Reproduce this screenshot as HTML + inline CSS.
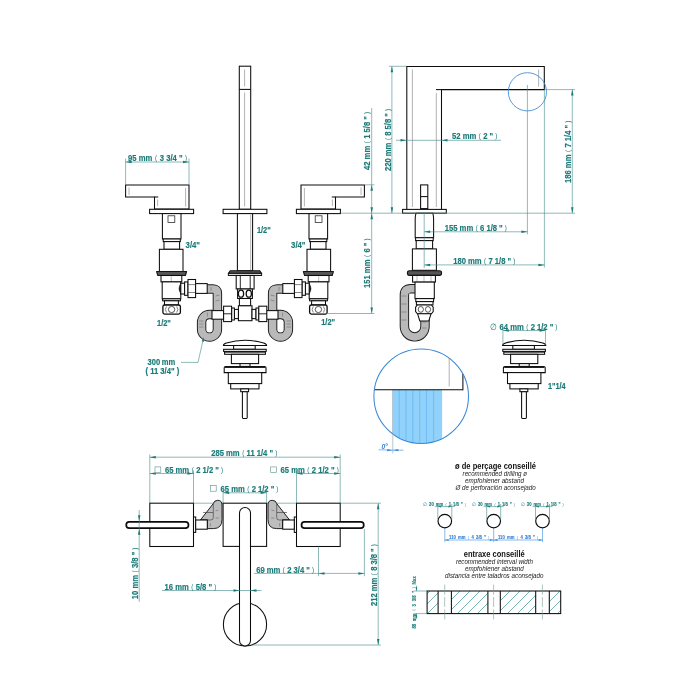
<!DOCTYPE html>
<html lang="fr">
<head>
<meta charset="utf-8">
<title>Robinetterie — dimensions</title>
<style>
html,body{margin:0;padding:0;background:#fff;}
body{width:700px;height:700px;overflow:hidden;}
svg{display:block;will-change:transform;}
text{font-family:"Liberation Sans",sans-serif;white-space:pre;}
.k{fill:#fff;stroke:#0c0c0c;stroke-width:1.05;stroke-linejoin:miter;}
.kn{fill:none;stroke:#0c0c0c;stroke-width:1.05;}
.kc{fill:none;stroke:#0c0c0c;stroke-width:1.15;}
.kk{fill:none;stroke:#222;stroke-width:1.3;}
.bk{fill:#111;stroke:#111;stroke-width:.6;}
.kt{fill:#fff;stroke:#0c0c0c;stroke-width:1.3;}
.lt{fill:#d8d8d8;stroke:#161616;stroke-width:1;}
.k3b{fill:none;stroke:#111;stroke-width:.9;}
.k2{fill:#fff;stroke:#222;stroke-width:.75;}
.k3{fill:none;stroke:#333;stroke-width:.6;}
.dk{fill:#555;stroke:#161616;stroke-width:1.1;stroke-linejoin:round;}
.lv{fill:#fff;stroke:#0c0c0c;stroke-width:1.7;}
.el{fill:#bdbdbd;stroke:#161616;stroke-width:.95;stroke-linejoin:round;}
.hb{fill:none;stroke:#1c1c1c;stroke-width:9.4;stroke-linecap:butt;}
.hf{fill:none;stroke:#b9b9b9;stroke-width:7.5;stroke-linecap:butt;}
.rib{fill:none;stroke:#666;stroke-width:.55;}
.g{fill:none;stroke:#8a8a8a;stroke-width:.65;}
.g2{fill:none;stroke:#777;stroke-width:.5;}
.d{fill:none;stroke:#3f8c89;stroke-width:.6;}
.a{fill:#1b7b79;stroke:none;}
.t{fill:#1b7b79;font-weight:bold;font-size:8.5px;stroke:#1b7b79;stroke-width:.18;}
.pn{font-weight:normal;stroke:none;font-size:.8em;}
.tl{fill:#1b7b79;font-size:8.5px;}
.ts{fill:#1b7b79;font-weight:bold;font-size:5.4px;stroke:#1b7b79;stroke-width:.12;}
.tsl{fill:#1b7b79;font-size:5.4px;}
.tsb{fill:#2f7fd6;font-weight:bold;font-size:5.4px;stroke:#2f7fd6;stroke-width:.12;}
.tb{fill:#2f7fd6;font-weight:bold;font-style:italic;font-size:6.6px;}
.bc{fill:none;stroke:#3a88d8;stroke-width:1.05;}
.bc2{fill:none;stroke:#3a88d8;stroke-width:.85;}
.bl{fill:none;stroke:#3c8bd9;stroke-width:.6;}
.ab{fill:#2f8fe8;stroke:none;}
.wl{fill:none;stroke:#62b4ee;stroke-width:.7;}
.wg{fill:none;stroke:#a9b9c9;stroke-width:.8;}
.hl{fill:none;stroke:#2a8986;stroke-width:.65;}
.sq{fill:#fff;stroke:#5a8f8d;stroke-width:.6;}
.h{fill:#111;font-weight:bold;font-size:8.2px;}
.i{fill:#222;font-style:italic;font-size:7px;}
</style>
</head>
<body>
<svg width="700" height="700" viewBox="0 0 700 700">
<rect x="0" y="0" width="700" height="700" fill="#fff"/>
<g id="front">
<path class="hb" d="M206,289 H213 Q217.4,289 217.4,293.5 V329.2 A7.9,7.9 0 0 1 201.6,329.2 V322.2 A7.9,7.9 0 0 1 209.5,314.5 H214" />
<path class="hf" d="M206,289 H213 Q217.4,289 217.4,293.5 V329.2 A7.9,7.9 0 0 1 201.6,329.2 V322.2 A7.9,7.9 0 0 1 209.5,314.5 H214" />
<line class="rib" x1="199" y1="321" x2="203.5" y2="321"/>
<line class="rib" x1="199" y1="324" x2="203.5" y2="324"/>
<line class="rib" x1="199" y1="327" x2="203.5" y2="327"/>
<line class="rib" x1="215.5" y1="296" x2="219.5" y2="295"/>
<line class="rib" x1="215.5" y1="301" x2="219.5" y2="300"/>
<line class="rib" x1="211" y1="291" x2="211" y2="287"/>
<line class="rib" x1="207.4" y1="316.5" x2="207.4" y2="312.5"/>
<path class="k" d="M125.6,185 H189 V208.9 H154.5 V197 H125.6 Z" />
<line class="kn" x1="154.5" y1="197" x2="158.2" y2="197"/>
<line class="g" x1="129" y1="187.5" x2="129" y2="195"/>
<line class="g" x1="185.6" y1="188" x2="185.6" y2="206.5"/>
<line class="g" x1="157.6" y1="199.5" x2="157.6" y2="206"/>
<rect class="k" x="149.6" y="209.3" width="44.0" height="4.3" />
<rect class="k" x="162.4" y="213.6" width="18.6" height="25.4" />
<rect class="k2" x="168" y="215.8" width="6.8" height="6.6" />
<rect class="k" x="163.2" y="239" width="17.1" height="2.6" />
<rect class="k" x="164" y="241.6" width="15.6" height="7.7" />
<rect class="k" x="159.4" y="249.3" width="23.6" height="22.2" />
<path class="dk" d="M156.6,271.5 H186.6 L185.4,275.5 H157.8 Z" />
<rect class="k" x="161" y="275.5" width="20.8" height="6.4" />
<line class="g2" x1="171.3" y1="276.4" x2="171.3" y2="281.2"/>
<rect class="k" x="162.2" y="281.9" width="18.6" height="16.9" />
<path class="bk" d="M180.8,283.6 Q177.4,288.6 180.8,293.6 Z" />
<rect class="k" x="162.6" y="298.8" width="17.8" height="2.0" />
<rect class="k" x="164.5" y="300.8" width="13.9" height="4.2" />
<path class="kt" d="M164.6,305 H178.6 Q180.4,305 180.4,306.8 V312.3 Q180.4,314.1 178.6,314.1 H164.6 Q162.9,314.1 162.9,312.3 V306.8 Q162.9,305 164.6,305 Z" />
<ellipse class="k2" cx="171.6" cy="309.5" rx="3.2" ry="3.1"/>
<path class="k3" d="M166.6,306.4 Q164,309.5 166.6,312.6" />
<path class="k3" d="M176.6,306.4 Q179.2,309.5 176.6,312.6" />
<rect class="k" x="180.8" y="283.2" width="3.8" height="10.8" />
<rect class="k" x="184.6" y="281.9" width="3.4" height="13.4" />
<rect class="k" x="188" y="279.5" width="7.6" height="18.1" />
<line class="k3" x1="188" y1="284.6" x2="195.6" y2="284.6"/>
<line class="k3" x1="188" y1="292.5" x2="195.6" y2="292.5"/>
<rect class="k" x="195.6" y="283.6" width="11.6" height="9.8" />
<rect class="k" x="212" y="310.6" width="11.6" height="8.6" />
<g transform="translate(490,0) scale(-1,1)">
<path class="hb" d="M206,289 H213 Q217.4,289 217.4,293.5 V329.2 A7.9,7.9 0 0 1 201.6,329.2 V322.2 A7.9,7.9 0 0 1 209.5,314.5 H214" />
<path class="hf" d="M206,289 H213 Q217.4,289 217.4,293.5 V329.2 A7.9,7.9 0 0 1 201.6,329.2 V322.2 A7.9,7.9 0 0 1 209.5,314.5 H214" />
<line class="rib" x1="199" y1="321" x2="203.5" y2="321"/>
<line class="rib" x1="199" y1="324" x2="203.5" y2="324"/>
<line class="rib" x1="199" y1="327" x2="203.5" y2="327"/>
<line class="rib" x1="215.5" y1="296" x2="219.5" y2="295"/>
<line class="rib" x1="215.5" y1="301" x2="219.5" y2="300"/>
<line class="rib" x1="211" y1="291" x2="211" y2="287"/>
<line class="rib" x1="207.4" y1="316.5" x2="207.4" y2="312.5"/>
<path class="k" d="M125.6,185 H189 V208.9 H154.5 V197 H125.6 Z" />
<line class="kn" x1="154.5" y1="197" x2="158.2" y2="197"/>
<line class="g" x1="129" y1="187.5" x2="129" y2="195"/>
<line class="g" x1="185.6" y1="188" x2="185.6" y2="206.5"/>
<line class="g" x1="157.6" y1="199.5" x2="157.6" y2="206"/>
<rect class="k" x="149.6" y="209.3" width="44.0" height="4.3" />
<rect class="k" x="162.4" y="213.6" width="18.6" height="25.4" />
<rect class="k2" x="168" y="215.8" width="6.8" height="6.6" />
<rect class="k" x="163.2" y="239" width="17.1" height="2.6" />
<rect class="k" x="164" y="241.6" width="15.6" height="7.7" />
<rect class="k" x="159.4" y="249.3" width="23.6" height="22.2" />
<path class="dk" d="M156.6,271.5 H186.6 L185.4,275.5 H157.8 Z" />
<rect class="k" x="161" y="275.5" width="20.8" height="6.4" />
<line class="g2" x1="171.3" y1="276.4" x2="171.3" y2="281.2"/>
<rect class="k" x="162.2" y="281.9" width="18.6" height="16.9" />
<path class="bk" d="M180.8,283.6 Q177.4,288.6 180.8,293.6 Z" />
<rect class="k" x="162.6" y="298.8" width="17.8" height="2.0" />
<rect class="k" x="164.5" y="300.8" width="13.9" height="4.2" />
<path class="kt" d="M164.6,305 H178.6 Q180.4,305 180.4,306.8 V312.3 Q180.4,314.1 178.6,314.1 H164.6 Q162.9,314.1 162.9,312.3 V306.8 Q162.9,305 164.6,305 Z" />
<ellipse class="k2" cx="171.6" cy="309.5" rx="3.2" ry="3.1"/>
<path class="k3" d="M166.6,306.4 Q164,309.5 166.6,312.6" />
<path class="k3" d="M176.6,306.4 Q179.2,309.5 176.6,312.6" />
<rect class="k" x="180.8" y="283.2" width="3.8" height="10.8" />
<rect class="k" x="184.6" y="281.9" width="3.4" height="13.4" />
<rect class="k" x="188" y="279.5" width="7.6" height="18.1" />
<line class="k3" x1="188" y1="284.6" x2="195.6" y2="284.6"/>
<line class="k3" x1="188" y1="292.5" x2="195.6" y2="292.5"/>
<rect class="k" x="195.6" y="283.6" width="11.6" height="9.8" />
<rect class="k" x="212" y="310.6" width="11.6" height="8.6" />
</g>
<rect class="k" x="239.3" y="66.2" width="11.4" height="143.1" />
<line class="k" x1="239.3" y1="89.4" x2="250.7" y2="89.4"/>
<line class="g" x1="244.6" y1="69.5" x2="244.6" y2="86.5"/>
<line class="g" x1="244.6" y1="92.5" x2="244.6" y2="206.5"/>
<rect class="k" x="223.1" y="209.3" width="43.8" height="4.3" />
<rect class="k" x="237.4" y="213.6" width="15.2" height="57.1" />
<line class="g" x1="250.7" y1="214.5" x2="250.7" y2="270"/>
<path class="dk" d="M230.4,270.7 H259.6 L261.6,273.4 H228.4 Z" />
<rect class="lt" x="228.4" y="273.4" width="33.2" height="2.1" />
<rect class="k" x="236.2" y="275.5" width="17.9" height="13.5" />
<line class="k3b" x1="240.3" y1="275.8" x2="240.3" y2="289"/>
<line class="k3b" x1="250.2" y1="275.8" x2="250.2" y2="289"/>
<rect class="k" x="237.6" y="289" width="14.8" height="9.5" />
<ellipse class="kt" cx="241" cy="293.7" rx="2.6" ry="3.5"/>
<ellipse class="kt" cx="248.8" cy="293.7" rx="2.6" ry="3.5"/>
<rect class="k" x="239.4" y="298.5" width="11.2" height="7.3" />
<rect class="k" x="238.4" y="305.8" width="13.6" height="14.9" />
<g>
<rect class="k" x="234.4" y="309.4" width="4.0" height="9.2" />
<rect class="k" x="231.6" y="308" width="2.8" height="12" />
<rect class="k" x="223.6" y="306.2" width="8.0" height="15.4" />
<line class="k3b" x1="223.6" y1="313.8" x2="231.6" y2="313.8"/>
</g>
<g transform="translate(490.4,0) scale(-1,1)">
<rect class="k" x="234.4" y="309.4" width="4.0" height="9.2" />
<rect class="k" x="231.6" y="308" width="2.8" height="12" />
<rect class="k" x="223.6" y="306.2" width="8.0" height="15.4" />
<line class="k3b" x1="223.6" y1="313.8" x2="231.6" y2="313.8"/>
</g>
<g transform="translate(0,0)">
<path class="k" d="M223.4,345.5 Q223.4,343.9 226.4,343 Q235.5,340.3 245,340.2 Q254.5,340.3 263.6,343 Q266.6,343.9 266.6,345.5 Z" />
<rect class="k" x="233.6" y="345.5" width="21.6" height="3.8" />
<rect class="k" x="223.6" y="349.3" width="42.6" height="2.1" />
<rect class="k" x="224.6" y="352.1" width="40.8" height="2.2" />
<rect class="k" x="231.4" y="354.3" width="27.2" height="9.3" />
<rect class="k" x="240" y="363.6" width="10" height="2.8" />
<path class="k" d="M225.6,366.4 H264.6 Q266,366.4 266,367.8 V372.6 H224.2 V367.8 Q224.2,366.4 225.6,366.4 Z" />
<line class="kk" x1="225" y1="367.3" x2="265.2" y2="367.3"/>
<rect class="k" x="228.3" y="372.6" width="33.4" height="11.0" />
<rect class="k" x="230.7" y="383.6" width="28.3" height="5.3" />
<rect class="k" x="240.7" y="388.9" width="7.9" height="2.8" />
<rect class="k" x="242.4" y="391.7" width="4.8" height="26.7" rx="0.8"/>
</g>
</g>
<line class="d" x1="125.6" y1="158.5" x2="125.6" y2="185"/>
<line class="d" x1="189" y1="158.5" x2="189" y2="185"/>
<line class="d" x1="125.6" y1="162" x2="189" y2="162"/>
<polygon class="a" points="125.6,162 131.6,160.75 131.6,163.25"/>
<polygon class="a" points="189,162 183.0,163.25 183.0,160.75"/>
<text class="t" transform="translate(128 161.3) scale(0.9 1)" ><tspan x="0" y="0">95 </tspan><tspan x="11.96" y="0">mm </tspan><tspan class="pn" x="30.07" y="-1.02">( </tspan><tspan x="35.21" y="0">3 </tspan><tspan x="42.44" y="0">3/4 </tspan><tspan x="56.76" y="0">" </tspan><tspan class="pn" x="63.29" y="-1.02">)</tspan></text>
<text class="t" transform="translate(185.6 247.5) scale(0.9087 1)" ><tspan x="0" y="0">3/4"</tspan></text>
<text class="t" transform="translate(157 325.9) scale(0.8772 1)" ><tspan x="0" y="0">1/2"</tspan></text>
<text class="t" transform="translate(256.9 232.5) scale(0.8772 1)" ><tspan x="0" y="0">1/2"</tspan></text>
<text class="t" transform="translate(291.1 247.7) scale(0.9087 1)" ><tspan x="0" y="0">3/4"</tspan></text>
<text class="t" transform="translate(321.2 325.1) scale(0.8772 1)" ><tspan x="0" y="0">1/2"</tspan></text>
<text class="t" transform="translate(147.6 365.3) scale(0.8884 1)" ><tspan x="0" y="0">300 </tspan><tspan x="15.95" y="0">mm</tspan></text>
<text class="t" transform="translate(145.4 374.4) scale(0.9 1)" ><tspan x="0" y="0">( </tspan><tspan x="5.41" y="0">11 </tspan><tspan x="16.64" y="0">3/4" </tspan><tspan x="34.72" y="0">)</tspan></text>
<path class="d" d="M181,362.4 H198 L203.2,339.5" />
<polygon class="a" points="203.8,337.2 204.05,341.76 201.61,341.22"/>
<line class="d" x1="365" y1="184.8" x2="374.4" y2="184.8"/>
<line class="d" x1="340.4" y1="213.2" x2="394.6" y2="213.2"/>
<line class="d" x1="325" y1="313.5" x2="374.4" y2="313.5"/>
<line class="d" x1="371.7" y1="108" x2="371.7" y2="313.5"/>
<polygon class="a" points="371.7,184.8 372.95,190.8 370.45,190.8"/>
<polygon class="a" points="371.7,213.2 370.45,207.2 372.95,207.2"/>
<polygon class="a" points="371.7,213.2 372.95,219.2 370.45,219.2"/>
<polygon class="a" points="371.7,313.5 370.45,307.5 372.95,307.5"/>
<text class="t" transform="translate(370.4 170) rotate(-90) scale(0.9 1)" ><tspan x="0" y="0">42 </tspan><tspan x="11.78" y="0">mm </tspan><tspan class="pn" x="29.69" y="-1.02">( </tspan><tspan x="34.63" y="0">1 </tspan><tspan x="41.68" y="0">5/8 </tspan><tspan x="55.82" y="0">" </tspan><tspan class="pn" x="62.18" y="-1.02">)</tspan></text>
<text class="t" transform="translate(370.4 288) rotate(-90) scale(0.9 1)" ><tspan x="0" y="0">151 </tspan><tspan x="16.5" y="0">mm </tspan><tspan class="pn" x="34.4" y="-1.02">( </tspan><tspan x="39.34" y="0">6 </tspan><tspan x="46.38" y="0">" </tspan><tspan class="pn" x="52.74" y="-1.02">)</tspan></text>
<line class="d" x1="391.9" y1="66.3" x2="391.9" y2="213.2"/>
<polygon class="a" points="391.9,66.3 393.15,72.3 390.65,72.3"/>
<polygon class="a" points="391.9,213.2 390.65,207.2 393.15,207.2"/>
<line class="d" x1="389" y1="66.3" x2="406.5" y2="66.3"/>
<text class="t" transform="translate(390.6 171) rotate(-90) scale(0.9 1)" ><tspan x="0" y="0">220 </tspan><tspan x="16.46" y="0">mm </tspan><tspan class="pn" x="34.32" y="-1.02">( </tspan><tspan x="39.21" y="0">8 </tspan><tspan x="46.21" y="0">5/8 </tspan><tspan x="60.31" y="0">" </tspan><tspan class="pn" x="66.62" y="-1.02">)</tspan></text>
<g id="side">
<path class="hb" d="M416,288.7 H410.5 Q404.4,288.7 404.4,295 V326.6 A10.3,10.3 0 0 0 425,326.6 V314" />
<path class="hf" d="M416,288.7 H410.5 Q404.4,288.7 404.4,295 V326.6 A10.3,10.3 0 0 0 425,326.6 V314" />
<line class="rib" x1="401.5" y1="296" x2="406.5" y2="296"/>
<line class="rib" x1="401.5" y1="304" x2="406.5" y2="304"/>
<line class="rib" x1="401.5" y1="312" x2="406.5" y2="312"/>
<line class="rib" x1="401.5" y1="320" x2="406.5" y2="320"/>
<line class="rib" x1="422" y1="322" x2="426.5" y2="322"/>
<line class="rib" x1="422" y1="328" x2="426.5" y2="328"/>
<path class="k" d="M406.8,209.4 V66.4 H544.3 V89.6 H441.5 V209.4" />
<line class="kn" x1="436" y1="89.6" x2="441.5" y2="89.6"/>
<line class="g" x1="412.4" y1="69.5" x2="412.4" y2="207"/>
<line class="g" x1="436.3" y1="93" x2="436.3" y2="207"/>
<line class="g" x1="538.6" y1="69.5" x2="538.6" y2="86.5"/>
<rect class="k" x="420.6" y="184.9" width="7.2" height="23.7" />
<line class="k" x1="420.6" y1="196.6" x2="427.8" y2="196.6"/>
<rect class="k" x="402.6" y="209.4" width="43.7" height="3.8" />
<path class="k" d="M416,213.2 H432.8 Q433.6,216 433.6,219 V237.7 H415.2 V219 Q415.2,216 416,213.2 Z" />
<rect class="k" x="415.6" y="237.7" width="17.6" height="2.9" />
<rect class="k" x="416.2" y="240.6" width="16.4" height="8.3" />
<rect class="k" x="412.4" y="248.9" width="24.0" height="21.4" />
<path class="dk" d="M409.2,270.8 H439.6 Q441.6,270.8 441.6,273.1 Q441.6,275.4 439.6,275.4 H409.2 Q407.4,275.4 407.4,273.1 Q407.4,270.8 409.2,270.8 Z" />
<rect class="k" x="412.6" y="275.4" width="22.8" height="6.7" />
<line class="g2" x1="417" y1="276" x2="417" y2="282"/>
<line class="g2" x1="424" y1="276" x2="424" y2="282"/>
<line class="g2" x1="431" y1="276" x2="431" y2="282"/>
<rect class="k" x="415" y="282.1" width="19.3" height="16.5" />
<rect class="k" x="415.8" y="298.6" width="17.8" height="3.0" />
<rect class="k" x="416.4" y="301.6" width="16.6" height="3.4" />
<path class="k" d="M417.4,305 H431.4 L433.2,307.2 V311.6 L431.4,313.8 H417.4 L415.6,311.6 V307.2 Z" />
<ellipse class="k2" cx="420.8" cy="309.4" rx="2.6" ry="2.9"/>
<ellipse class="k2" cx="428" cy="309.4" rx="2.6" ry="2.9"/>
<path class="k" d="M417.6,313.8 H431 L428.8,321 H419.8 Z" />
</g>
<line class="d" x1="424.2" y1="213.2" x2="424.2" y2="268"/>
<line class="d" x1="394.6" y1="213.2" x2="575" y2="213.2"/>
<line class="d" x1="527.4" y1="85" x2="527.4" y2="234.4"/>
<line class="d" x1="544.4" y1="89.6" x2="544.4" y2="267.6"/>
<line class="d" x1="424.2" y1="231.8" x2="527.4" y2="231.8"/>
<polygon class="a" points="424.2,231.8 430.2,230.55 430.2,233.05"/>
<polygon class="a" points="527.4,231.8 521.4,233.05 521.4,230.55"/>
<line class="d" x1="424.2" y1="264.9" x2="544.4" y2="264.9"/>
<polygon class="a" points="424.2,264.9 430.2,263.65 430.2,266.15"/>
<polygon class="a" points="544.4,264.9 538.4,266.15 538.4,263.65"/>
<text class="t" transform="translate(444.8 230.9) scale(0.9 1)" ><tspan x="0" y="0">155 </tspan><tspan x="16.46" y="0">mm </tspan><tspan class="pn" x="34.32" y="-1.02">( </tspan><tspan x="39.21" y="0">6 </tspan><tspan x="46.21" y="0">1/8 </tspan><tspan x="60.31" y="0">" </tspan><tspan class="pn" x="66.62" y="-1.02">)</tspan></text>
<text class="t" transform="translate(453.2 264.2) scale(0.9 1)" ><tspan x="0" y="0">180 </tspan><tspan x="16.46" y="0">mm </tspan><tspan class="pn" x="34.32" y="-1.02">( </tspan><tspan x="39.21" y="0">7 </tspan><tspan x="46.21" y="0">1/8 </tspan><tspan x="60.31" y="0">" </tspan><tspan class="pn" x="66.62" y="-1.02">)</tspan></text>
<line class="d" x1="396" y1="140.3" x2="501" y2="140.3"/>
<polygon class="a" points="406.5,140.3 400.5,141.55 400.5,139.05"/>
<polygon class="a" points="441.5,140.3 447.5,139.05 447.5,141.55"/>
<text class="t" transform="translate(452 139.0) scale(0.9 1)" ><tspan x="0" y="0">52 </tspan><tspan x="11.81" y="0">mm </tspan><tspan class="pn" x="29.75" y="-1.02">( </tspan><tspan x="34.72" y="0">2 </tspan><tspan x="41.8" y="0">" </tspan><tspan class="pn" x="48.18" y="-1.02">)</tspan></text>
<line class="d" x1="544.4" y1="89.6" x2="575" y2="89.6"/>
<line class="d" x1="572.3" y1="89.6" x2="572.3" y2="213.2"/>
<polygon class="a" points="572.3,89.6 573.55,95.6 571.05,95.6"/>
<polygon class="a" points="572.3,213.2 571.05,207.2 573.55,207.2"/>
<text class="t" transform="translate(571 183) rotate(-90) scale(0.9 1)" ><tspan x="0" y="0">186 </tspan><tspan x="16.53" y="0">mm </tspan><tspan class="pn" x="34.47" y="-1.02">( </tspan><tspan x="39.44" y="0">7 </tspan><tspan x="46.52" y="0">1/4 </tspan><tspan x="60.69" y="0">" </tspan><tspan class="pn" x="67.07" y="-1.02">)</tspan></text>
<circle class="bc2" cx="527.4" cy="91.8" r="19.1"/>
<g transform="translate(279.2,0)">
<path class="k" d="M223.4,345.5 Q223.4,343.9 226.4,343 Q235.5,340.3 245,340.2 Q254.5,340.3 263.6,343 Q266.6,343.9 266.6,345.5 Z" />
<rect class="k" x="233.6" y="345.5" width="21.6" height="3.8" />
<rect class="k" x="223.6" y="349.3" width="42.6" height="2.1" />
<rect class="k" x="224.6" y="352.1" width="40.8" height="2.2" />
<rect class="k" x="231.4" y="354.3" width="27.2" height="9.3" />
<rect class="k" x="240" y="363.6" width="10" height="2.8" />
<path class="k" d="M225.6,366.4 H264.6 Q266,366.4 266,367.8 V372.6 H224.2 V367.8 Q224.2,366.4 225.6,366.4 Z" />
<line class="kk" x1="225" y1="367.3" x2="265.2" y2="367.3"/>
<rect class="k" x="228.3" y="372.6" width="33.4" height="11.0" />
<rect class="k" x="230.7" y="383.6" width="28.3" height="5.3" />
<rect class="k" x="240.7" y="388.9" width="7.9" height="2.8" />
<rect class="k" x="242.4" y="391.7" width="4.8" height="26.7" rx="0.8"/>
</g>
<line class="d" x1="502.9" y1="328.5" x2="502.9" y2="345"/>
<line class="d" x1="545.5" y1="328.5" x2="545.5" y2="345"/>
<line class="d" x1="502.9" y1="330.5" x2="545.5" y2="330.5"/>
<polygon class="a" points="502.9,330.5 508.9,329.25 508.9,331.75"/>
<polygon class="a" points="545.5,330.5 539.5,331.75 539.5,329.25"/>
<text class="tl" transform="translate(490 329.8) scale(0.8627 1)" ><tspan x="0" y="0">∅</tspan></text>
<text class="t" transform="translate(499.6 329.8) scale(0.9 1)" ><tspan x="0" y="0">64 </tspan><tspan x="11.75" y="0">mm </tspan><tspan class="pn" x="29.61" y="-1.02">( </tspan><tspan x="34.51" y="0">2 </tspan><tspan x="41.53" y="0">1/2 </tspan><tspan x="55.64" y="0">" </tspan><tspan class="pn" x="61.96" y="-1.02">)</tspan></text>
<text class="t" transform="translate(547.9 388.8) scale(0.8652 1)" ><tspan x="0" y="0">1"1/4</tspan></text>
<defs><clipPath id="dc"><circle cx="421.2" cy="396.2" r="47.3"/></clipPath></defs>
<g clip-path="url(#dc)">
<rect x="392.6" y="389.8" width="49.5" height="60" fill="#90d2fb"/>
<line class="wl" x1="399.2" y1="390" x2="399.2" y2="446"/>
<line class="wl" x1="406" y1="390" x2="406" y2="446"/>
<line class="wl" x1="412.8" y1="390" x2="412.8" y2="446"/>
<line class="wl" x1="419.7" y1="390" x2="419.7" y2="446"/>
<line class="wl" x1="426.5" y1="390" x2="426.5" y2="446"/>
<line class="wl" x1="433.6" y1="390" x2="433.6" y2="446"/>
<line class="wg" x1="392.6" y1="389.8" x2="392.6" y2="446"/>
<line class="k" x1="370" y1="389.8" x2="462.9" y2="389.8"/>
<line class="k" x1="462.9" y1="373.6" x2="462.9" y2="390.3"/>
<line class="g" x1="449.2" y1="358" x2="449.2" y2="386.5"/>
</g>
<circle class="bc" cx="421.2" cy="396.2" r="47.3"/>
<line class="wg" x1="392.8" y1="434" x2="392.8" y2="453.5"/>
<line class="bl" x1="378.5" y1="449.8" x2="403.5" y2="450.2"/>
<polygon class="ab" points="392.6,450.2 387.2,451.3 387.2,449.1"/>
<polygon class="ab" points="393,450.2 398.4,449.1 398.4,451.3"/>
<text class="tb" transform="translate(381.4 449) scale(1.0143 1)" ><tspan x="0" y="0">0°</tspan></text>
<line class="d" x1="193.5" y1="503.2" x2="223.1" y2="503.2"/>
<line class="d" x1="266.6" y1="503.2" x2="296.5" y2="503.2"/>
<line class="d" x1="340.2" y1="503.2" x2="381" y2="503.2"/>
<g id="plan">
<path class="el" d="M200.4,520 L213.3,503.6 Q214.2,500.3 217.8,500.3 Q222,500.3 222,505 V519.5 Q222,528.6 213.5,528.6 H207.3 V520 Z" />
<path class="k3" d="M213.3,503.6 V517.5 Q213.3,520 210.8,520 H200.4" />
<line class="k3" x1="203" y1="512.5" x2="213" y2="512.5"/>
<line class="rib" x1="215.6" y1="510.8" x2="218.6" y2="510.2"/>
<line class="rib" x1="215.6" y1="518" x2="219" y2="518"/>
<line class="rib" x1="210.4" y1="523.2" x2="210.4" y2="526.4"/>
<rect class="k" x="149.8" y="503.2" width="43.7" height="43.3" />
<rect class="k" x="193.5" y="517" width="2.2" height="15.4" />
<rect class="k" x="195.7" y="520" width="11.6" height="9.2" />
<rect class="lv" x="126.2" y="521.9" width="62.3" height="6.2" rx="3.1"/>
<g transform="translate(490,0) scale(-1,1)">
<path class="el" d="M200.4,520 L213.3,503.6 Q214.2,500.3 217.8,500.3 Q222,500.3 222,505 V519.5 Q222,528.6 213.5,528.6 H207.3 V520 Z" />
<path class="k3" d="M213.3,503.6 V517.5 Q213.3,520 210.8,520 H200.4" />
<line class="k3" x1="203" y1="512.5" x2="213" y2="512.5"/>
<line class="rib" x1="215.6" y1="510.8" x2="218.6" y2="510.2"/>
<line class="rib" x1="215.6" y1="518" x2="219" y2="518"/>
<line class="rib" x1="210.4" y1="523.2" x2="210.4" y2="526.4"/>
<rect class="k" x="149.8" y="503.2" width="43.7" height="43.3" />
<rect class="k" x="193.5" y="517" width="2.2" height="15.4" />
<rect class="k" x="195.7" y="520" width="11.6" height="9.2" />
<rect class="lv" x="126.2" y="521.9" width="62.3" height="6.2" rx="3.1"/>
</g>
<rect class="k" x="223.1" y="503.2" width="43.5" height="43.2" />
<circle class="kn" cx="245" cy="624.4" r="21.6"/>
<path class="k" d="M239.5,513 A5.5,5.5 0 0 1 250.5,513 V640.4 A5.5,5.5 0 0 1 239.5,640.4 Z" />
</g>
<line class="d" x1="149.8" y1="454.5" x2="149.8" y2="503.2"/>
<line class="d" x1="340.2" y1="454.5" x2="340.2" y2="503.2"/>
<line class="d" x1="149.8" y1="457.2" x2="340.2" y2="457.2"/>
<polygon class="a" points="149.8,457.2 155.8,455.95 155.8,458.45"/>
<polygon class="a" points="340.2,457.2 334.2,458.45 334.2,455.95"/>
<text class="t" transform="translate(211.2 456.1) scale(0.9 1)" ><tspan x="0" y="0">285 </tspan><tspan x="16.49" y="0">mm </tspan><tspan class="pn" x="34.38" y="-1.02">( </tspan><tspan x="39.3" y="0">11 </tspan><tspan x="50.6" y="0">1/4 </tspan><tspan x="64.73" y="0">" </tspan><tspan class="pn" x="71.07" y="-1.02">)</tspan></text>
<line class="d" x1="193.5" y1="470.5" x2="193.5" y2="503.2"/>
<line class="d" x1="296.5" y1="470.5" x2="296.5" y2="503.2"/>
<line class="d" x1="149.8" y1="473.5" x2="193.5" y2="473.5"/>
<polygon class="a" points="149.8,473.5 155.8,472.25 155.8,474.75"/>
<polygon class="a" points="193.5,473.5 187.5,474.75 187.5,472.25"/>
<line class="d" x1="296.5" y1="473.5" x2="340.2" y2="473.5"/>
<polygon class="a" points="296.5,473.5 302.5,472.25 302.5,474.75"/>
<polygon class="a" points="340.2,473.5 334.2,474.75 334.2,472.25"/>
<rect class="sq" x="155" y="466.9" width="5.8" height="5.8" />
<text class="t" transform="translate(164.9 472.9) scale(0.9 1)" ><tspan x="0" y="0">65 </tspan><tspan x="11.82" y="0">mm </tspan><tspan class="pn" x="29.76" y="-1.02">( </tspan><tspan x="34.74" y="0">2 </tspan><tspan x="41.83" y="0">1/2 </tspan><tspan x="56.01" y="0">" </tspan><tspan class="pn" x="62.4" y="-1.02">)</tspan></text>
<rect class="sq" x="270.7" y="466.9" width="5.8" height="5.8" />
<text class="t" transform="translate(280.6 472.9) scale(0.9 1)" ><tspan x="0" y="0">65 </tspan><tspan x="11.82" y="0">mm </tspan><tspan class="pn" x="29.76" y="-1.02">( </tspan><tspan x="34.74" y="0">2 </tspan><tspan x="41.83" y="0">1/2 </tspan><tspan x="56.01" y="0">" </tspan><tspan class="pn" x="62.4" y="-1.02">)</tspan></text>
<line class="d" x1="223.1" y1="489.5" x2="223.1" y2="503.2"/>
<line class="d" x1="266.6" y1="489.5" x2="266.6" y2="503.2"/>
<line class="d" x1="223.1" y1="492.8" x2="266.6" y2="492.8"/>
<polygon class="a" points="223.1,492.8 229.1,491.55 229.1,494.05"/>
<polygon class="a" points="266.6,492.8 260.6,494.05 260.6,491.55"/>
<rect class="sq" x="210.4" y="485.4" width="5.8" height="5.8" />
<text class="t" transform="translate(220.6 491.7) scale(0.9 1)" ><tspan x="0" y="0">65 </tspan><tspan x="11.75" y="0">mm </tspan><tspan class="pn" x="29.61" y="-1.02">( </tspan><tspan x="34.51" y="0">2 </tspan><tspan x="41.53" y="0">1/2 </tspan><tspan x="55.64" y="0">" </tspan><tspan class="pn" x="61.96" y="-1.02">)</tspan></text>
<line class="d" x1="139.2" y1="510" x2="139.2" y2="601.8"/>
<polygon class="a" points="139.2,521.2 137.95,515.2 140.45,515.2"/>
<polygon class="a" points="139.2,528.8 140.45,534.8 137.95,534.8"/>
<text class="t" transform="translate(138 599.2) rotate(-90) scale(0.9 1)" ><tspan x="0" y="0">10 </tspan><tspan x="11.77" y="0">mm </tspan><tspan class="pn" x="29.66" y="-1.02">( </tspan><tspan x="34.59" y="0">3/8 </tspan><tspan x="48.72" y="0">" </tspan><tspan class="pn" x="55.07" y="-1.02">)</tspan></text>
<line class="d" x1="162" y1="590.5" x2="261.5" y2="590.5"/>
<polygon class="a" points="239.5,590.5 233.5,591.75 233.5,589.25"/>
<polygon class="a" points="250.5,590.5 256.5,589.25 256.5,591.75"/>
<text class="t" transform="translate(164.6 590.0) scale(0.9 1)" ><tspan x="0" y="0">16 </tspan><tspan x="11.77" y="0">mm </tspan><tspan class="pn" x="29.66" y="-1.02">( </tspan><tspan x="34.59" y="0">5/8 </tspan><tspan x="48.72" y="0">" </tspan><tspan class="pn" x="55.07" y="-1.02">)</tspan></text>
<line class="d" x1="318.5" y1="546.5" x2="318.5" y2="576.2"/>
<line class="d" x1="364.4" y1="529" x2="364.4" y2="576.2"/>
<line class="d" x1="254" y1="573.4" x2="364.4" y2="573.4"/>
<polygon class="a" points="318.5,573.4 324.5,572.15 324.5,574.65"/>
<polygon class="a" points="364.4,573.4 358.4,574.65 358.4,572.15"/>
<text class="t" transform="translate(256.2 572.6) scale(0.9 1)" ><tspan x="0" y="0">69 </tspan><tspan x="11.75" y="0">mm </tspan><tspan class="pn" x="29.61" y="-1.02">( </tspan><tspan x="34.51" y="0">2 </tspan><tspan x="41.53" y="0">3/4 </tspan><tspan x="55.64" y="0">" </tspan><tspan class="pn" x="61.96" y="-1.02">)</tspan></text>
<line class="d" x1="378.2" y1="503.2" x2="378.2" y2="645"/>
<polygon class="a" points="378.2,503.2 379.45,509.2 376.95,509.2"/>
<polygon class="a" points="378.2,645 376.95,639.0 379.45,639.0"/>
<line class="d" x1="250.5" y1="645" x2="381" y2="645"/>
<text class="t" transform="translate(377 606) rotate(-90) scale(0.9 1)" ><tspan x="0" y="0">212 </tspan><tspan x="16.43" y="0">mm </tspan><tspan class="pn" x="34.24" y="-1.02">( </tspan><tspan x="39.09" y="0">8 </tspan><tspan x="46.06" y="0">3/8 </tspan><tspan x="60.13" y="0">" </tspan><tspan class="pn" x="66.4" y="-1.02">)</tspan></text>
<text class="h" transform="translate(495.5 468.6) scale(0.9209 1)" ><tspan x="-43.98" y="0">ø </tspan><tspan x="-36.69" y="0">de </tspan><tspan x="-24.84" y="0">perçage </tspan><tspan x="8.88" y="0">conseillé</tspan></text>
<text class="i" transform="translate(494.8 475.7) scale(0.8805 1)" ><tspan x="-36.57" y="0">recommended </tspan><tspan x="10.12" y="0">drilling </tspan><tspan x="32.29" y="0">ø</tspan></text>
<text class="i" transform="translate(494.5 482.6) scale(0.8971 1)" ><tspan x="-32.88" y="0">empfohlener </tspan><tspan x="7.97" y="0">abstand</tspan></text>
<text class="i" transform="translate(495.6 489.7) scale(0.8944 1)" ><tspan x="-44.95" y="0">Ø </tspan><tspan x="-37.56" y="0">de </tspan><tspan x="-27.83" y="0">perforación </tspan><tspan x="9.14" y="0">aconsejado</tspan></text>
<line class="d" x1="437.8" y1="504" x2="437.8" y2="519.5"/>
<line class="d" x1="451.8" y1="504" x2="451.8" y2="519.5"/>
<line class="d" x1="434.8" y1="506.6" x2="454.8" y2="506.6"/>
<polygon class="a" points="437.8,506.6 441.2,505.8 441.2,507.4"/>
<polygon class="a" points="451.8,506.6 448.4,507.4 448.4,505.8"/>
<text class="tsl" transform="translate(423.0 506.2) scale(0.8889 1)" ><tspan x="0" y="0">∅</tspan></text>
<text class="ts" transform="translate(429.1 506.2) scale(0.78 1)" ><tspan x="0" y="0">30 </tspan><tspan x="8.47" y="0">mm </tspan><tspan class="pn" x="21.02" y="-0.65">( </tspan><tspan x="25.29" y="0">1 </tspan><tspan x="30.75" y="0">1/8 </tspan><tspan x="40.72" y="0">" </tspan><tspan class="pn" x="45.74" y="-0.65">)</tspan></text>
<circle class="kc" cx="444.8" cy="521.1" r="6.8"/>
<line class="d" x1="486.7" y1="504" x2="486.7" y2="519.5"/>
<line class="d" x1="500.7" y1="504" x2="500.7" y2="519.5"/>
<line class="d" x1="483.7" y1="506.6" x2="503.7" y2="506.6"/>
<polygon class="a" points="486.7,506.6 490.1,505.8 490.1,507.4"/>
<polygon class="a" points="500.7,506.6 497.3,507.4 497.3,505.8"/>
<text class="tsl" transform="translate(471.9 506.2) scale(0.8889 1)" ><tspan x="0" y="0">∅</tspan></text>
<text class="ts" transform="translate(478.0 506.2) scale(0.78 1)" ><tspan x="0" y="0">30 </tspan><tspan x="8.47" y="0">mm </tspan><tspan class="pn" x="21.02" y="-0.65">( </tspan><tspan x="25.29" y="0">1 </tspan><tspan x="30.75" y="0">1/8 </tspan><tspan x="40.72" y="0">" </tspan><tspan class="pn" x="45.74" y="-0.65">)</tspan></text>
<circle class="kc" cx="493.7" cy="521.1" r="6.8"/>
<line class="d" x1="535.5" y1="504" x2="535.5" y2="519.5"/>
<line class="d" x1="549.5" y1="504" x2="549.5" y2="519.5"/>
<line class="d" x1="532.5" y1="506.6" x2="552.5" y2="506.6"/>
<polygon class="a" points="535.5,506.6 538.9,505.8 538.9,507.4"/>
<polygon class="a" points="549.5,506.6 546.1,507.4 546.1,505.8"/>
<text class="tsl" transform="translate(520.7 506.2) scale(0.8889 1)" ><tspan x="0" y="0">∅</tspan></text>
<text class="ts" transform="translate(526.8 506.2) scale(0.78 1)" ><tspan x="0" y="0">30 </tspan><tspan x="8.47" y="0">mm </tspan><tspan class="pn" x="21.02" y="-0.65">( </tspan><tspan x="25.29" y="0">1 </tspan><tspan x="30.75" y="0">1/8 </tspan><tspan x="40.72" y="0">" </tspan><tspan class="pn" x="45.74" y="-0.65">)</tspan></text>
<circle class="kc" cx="542.5" cy="521.1" r="6.8"/>
<line class="bl" x1="444.8" y1="528" x2="444.8" y2="542"/>
<line class="bl" x1="493.7" y1="528" x2="493.7" y2="542"/>
<line class="bl" x1="542.5" y1="528" x2="542.5" y2="542"/>
<line class="bl" x1="444.8" y1="540" x2="493.7" y2="540"/>
<polygon class="ab" points="444.8,540 448.6,539.1 448.6,540.9"/>
<polygon class="ab" points="493.7,540 489.9,540.9 489.9,539.1"/>
<text class="tsb" transform="translate(449.1 539.2) scale(0.78 1)" ><tspan x="0" y="0">110 </tspan><tspan x="11.43" y="0">mm </tspan><tspan class="pn" x="24.3" y="-0.65">( </tspan><tspan x="28.87" y="0">4 </tspan><tspan x="34.59" y="0">3/8 </tspan><tspan x="44.82" y="0">" </tspan><tspan class="pn" x="50.1" y="-0.65">)</tspan></text>
<line class="bl" x1="493.7" y1="540" x2="542.5" y2="540"/>
<polygon class="ab" points="493.7,540 497.5,539.1 497.5,540.9"/>
<polygon class="ab" points="542.5,540 538.7,540.9 538.7,539.1"/>
<text class="tsb" transform="translate(498.0 539.2) scale(0.78 1)" ><tspan x="0" y="0">110 </tspan><tspan x="11.43" y="0">mm </tspan><tspan class="pn" x="24.3" y="-0.65">( </tspan><tspan x="28.87" y="0">4 </tspan><tspan x="34.59" y="0">3/8 </tspan><tspan x="44.82" y="0">" </tspan><tspan class="pn" x="50.1" y="-0.65">)</tspan></text>
<text class="h" transform="translate(494.2 557) scale(0.9167 1)" ><tspan x="-33.27" y="0">entraxe </tspan><tspan x="-1.82" y="0">conseillé</tspan></text>
<text class="i" transform="translate(494.4 564) scale(0.8796 1)" ><tspan x="-43.77" y="0">recommended </tspan><tspan x="2.92" y="0">interval </tspan><tspan x="27.43" y="0">width</tspan></text>
<text class="i" transform="translate(494.4 570.8) scale(0.8971 1)" ><tspan x="-32.88" y="0">empfohlener </tspan><tspan x="7.97" y="0">abstand</tspan></text>
<text class="i" transform="translate(494.3 578) scale(0.8953 1)" ><tspan x="-55.06" y="0">distancia </tspan><tspan x="-25.49" y="0">entre </tspan><tspan x="-7.59" y="0">taladros </tspan><tspan x="19.26" y="0">aconsejado</tspan></text>
<defs><clipPath id="hc"><rect x="427.1" y="591" width="11.0" height="22.6"/><rect x="451.4" y="591" width="36.5" height="22.6"/><rect x="500.3" y="591" width="35.4" height="22.6"/><rect x="549.3" y="591" width="11.4" height="22.6"/></clipPath></defs>
<g clip-path="url(#hc)">
<line class="hl" x1="396.4" y1="614.6" x2="421" y2="590"/>
<line class="hl" x1="406.4" y1="614.6" x2="431" y2="590"/>
<line class="hl" x1="416.4" y1="614.6" x2="441" y2="590"/>
<line class="hl" x1="426.4" y1="614.6" x2="451" y2="590"/>
<line class="hl" x1="436.4" y1="614.6" x2="461" y2="590"/>
<line class="hl" x1="446.4" y1="614.6" x2="471" y2="590"/>
<line class="hl" x1="456.4" y1="614.6" x2="481" y2="590"/>
<line class="hl" x1="466.4" y1="614.6" x2="491" y2="590"/>
<line class="hl" x1="476.4" y1="614.6" x2="501" y2="590"/>
<line class="hl" x1="486.4" y1="614.6" x2="511" y2="590"/>
<line class="hl" x1="496.4" y1="614.6" x2="521" y2="590"/>
<line class="hl" x1="506.4" y1="614.6" x2="531" y2="590"/>
<line class="hl" x1="516.4" y1="614.6" x2="541" y2="590"/>
<line class="hl" x1="526.4" y1="614.6" x2="551" y2="590"/>
<line class="hl" x1="536.4" y1="614.6" x2="561" y2="590"/>
<line class="hl" x1="546.4" y1="614.6" x2="571" y2="590"/>
<line class="hl" x1="556.4" y1="614.6" x2="581" y2="590"/>
<line class="hl" x1="566.4" y1="614.6" x2="591" y2="590"/>
</g>
<rect class="kn" x="427.1" y="591" width="133.6" height="22.6" />
<line class="k" x1="438.1" y1="591" x2="438.1" y2="613.6"/>
<line class="k" x1="451.4" y1="591" x2="451.4" y2="613.6"/>
<line class="k" x1="487.9" y1="591" x2="487.9" y2="613.6"/>
<line class="k" x1="500.3" y1="591" x2="500.3" y2="613.6"/>
<line class="k" x1="535.7" y1="591" x2="535.7" y2="613.6"/>
<line class="k" x1="549.3" y1="591" x2="549.3" y2="613.6"/>
<line class="d" x1="444.7" y1="584.6" x2="444.7" y2="620.6" stroke-dasharray="10 2.4" style="stroke:#7d9a99"/>
<line class="d" x1="493.6" y1="584.6" x2="493.6" y2="620.6" stroke-dasharray="10 2.4" style="stroke:#7d9a99"/>
<line class="d" x1="542.4" y1="584.6" x2="542.4" y2="620.6" stroke-dasharray="10 2.4" style="stroke:#7d9a99"/>
<line class="d" x1="413.5" y1="591" x2="427.1" y2="591"/>
<line class="d" x1="413.5" y1="613.6" x2="427.1" y2="613.6"/>
<line class="d" x1="416.5" y1="585.5" x2="416.5" y2="591"/>
<line class="d" x1="416.5" y1="613.6" x2="416.5" y2="619"/>
<polygon class="a" points="416.5,591.2 415.65,587.2 417.35,587.2"/>
<polygon class="a" points="416.5,613.5 417.35,617.5 415.65,617.5"/>
<text class="ts" transform="translate(415.9 628.6) rotate(-90) scale(0.78 1)" ><tspan x="0" y="0">88 </tspan><tspan x="9.42" y="0">mm </tspan><tspan class="pn" x="23.13" y="-0.65">( </tspan><tspan x="28.5" y="0">3 </tspan><tspan x="34.92" y="0">3/8 </tspan><tspan x="45.84" y="0">" </tspan><tspan class="pn" x="51.82" y="-0.65">) </tspan><tspan x="56.67" y="0">Max</tspan></text>
</svg>
</body>
</html>
